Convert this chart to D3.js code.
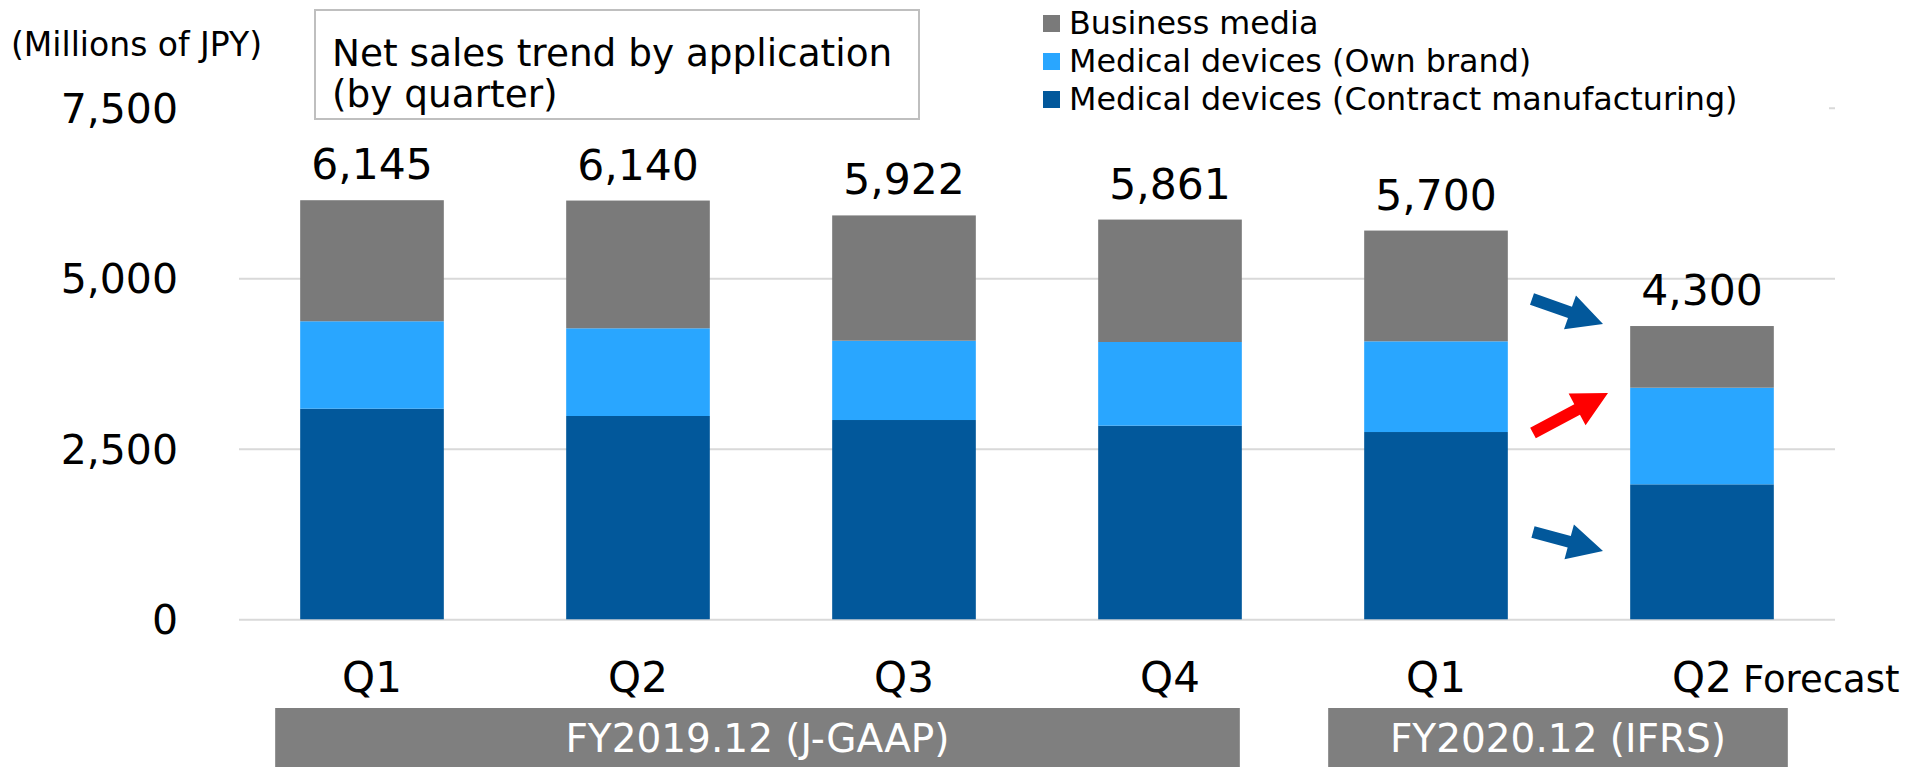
<!DOCTYPE html>
<html>
<head>
<meta charset="utf-8">
<script src="https://cdn.jsdelivr.net/npm/d3@7"></script>
<style>
  body { margin: 0; background: #fff; }
  svg text { font-family: "DejaVu Sans", Verdana, sans-serif; }
</style>
</head>
<body>
<div id="chart"></div>
<script>
// data (millions of JPY)
var quarters = ["Q1", "Q2", "Q3", "Q4", "Q1", "Q2"];
var contract = [3088, 2981, 2922, 2839, 2746, 1979];
var ownBrand = [1282, 1286, 1163, 1227, 1330, 1417];
var business = [1775, 1873, 1837, 1795, 1624, 904];
var totals = [6145, 6140, 5922, 5861, 5700, 4300];
var yTicks = [0, 2500, 5000, 7500];
var seriesNames = ["Business media", "Medical devices (Own brand)", "Medical devices (Contract manufacturing)"];
var seriesColors = ["#7a7a7a", "#29a6ff", "#02589b"];
var periods = [
  { label: "FY2019.12 (J-GAAP)", from: 0, to: 3, padL: 25, padR: -2 },
  { label: "FY2020.12 (IFRS)", from: 4, to: 5, padL: 36, padR: 14 }
];

var width = 1915, height = 767;
var plotLeft = 239, plotRight = 1835;

var svg = d3.select("#chart")
  .append("svg")
  .attr("width", width)
  .attr("height", height);

// rows for stacking
var ids = quarters.map(function (q, i) { return "c" + i; });
var rows = ids.map(function (id, i) {
  return { id: id, contract: contract[i], own: ownBrand[i], biz: business[i] };
});
var keys = ["contract", "own", "biz"];
var keyColor = { contract: seriesColors[2], own: seriesColors[1], biz: seriesColors[0] };

var x = d3.scaleBand()
  .domain(ids)
  .range([plotLeft, plotRight])
  .paddingInner(0.46)
  .paddingOuter(0.23);

var y = d3.scaleLinear()
  .domain([0, 7500])
  .range([619.3, 107.8]);

// gridlines + y labels
var yAxis = svg.append("g")
  .attr("transform", "translate(" + plotLeft + ",0)")
  .call(d3.axisLeft(y)
    .tickValues(yTicks)
    .tickFormat(d3.format(","))
    .tickSizeInner(-(plotRight - plotLeft))
    .tickSizeOuter(0)
    .tickPadding(61));
yAxis.select(".domain").remove();
yAxis.selectAll(".tick line")
  .attr("stroke", "#d9d9d9")
  .attr("stroke-width", 2);
yAxis.selectAll(".tick text")
  .attr("fill", "#000")
  .style("font-size", "41px")
  .attr("dy", "0.35em");

// legend background hides the top gridline
svg.append("rect")
  .attr("x", plotLeft - 5)
  .attr("y", 90)
  .attr("width", 1829 - plotLeft + 5)
  .attr("height", 30)
  .attr("fill", "#fff");

// stacked bars
var stacked = d3.stack().keys(keys)(rows);
svg.append("g")
  .selectAll("g")
  .data(stacked)
  .enter()
  .append("g")
  .attr("fill", function (d) { return keyColor[d.key]; })
  .selectAll("rect")
  .data(function (d) { return d; })
  .enter()
  .append("rect")
  .attr("x", function (d) { return x(d.data.id); })
  .attr("y", function (d) { return y(d[1]); })
  .attr("width", x.bandwidth())
  .attr("height", function (d) { return y(d[0]) - y(d[1]); });

// totals above bars
svg.append("g")
  .selectAll("text")
  .data(totals)
  .enter()
  .append("text")
  .attr("x", function (d, i) { return x(ids[i]) + x.bandwidth() / 2; })
  .attr("y", function (d) { return y(d) - 21; })
  .attr("text-anchor", "middle")
  .style("font-size", "42.5px")
  .text(function (d) { return d3.format(",")(d); });

// quarter labels
svg.append("g")
  .selectAll("text")
  .data(quarters)
  .enter()
  .append("text")
  .attr("x", function (d, i) { return x(ids[i]) + x.bandwidth() / 2; })
  .attr("y", 692)
  .attr("text-anchor", "middle")
  .style("font-size", "42px")
  .text(function (d) { return d; });

svg.append("text")
  .attr("x", x(ids[5]) + x.bandwidth() / 2 + 41)
  .attr("y", 692)
  .style("font-size", "37px")
  .text("Forecast");

// fiscal year bands
var bands = svg.append("g")
  .selectAll("g")
  .data(periods)
  .enter()
  .append("g");
bands.append("rect")
  .attr("x", function (d) { return x(ids[d.from]) - d.padL; })
  .attr("y", 708)
  .attr("width", function (d) { return x(ids[d.to]) + x.bandwidth() + d.padR - (x(ids[d.from]) - d.padL); })
  .attr("height", height - 708)
  .attr("fill", "#7f7f7f");
bands.append("text")
  .attr("x", function (d) { return (x(ids[d.from]) - d.padL + x(ids[d.to]) + x.bandwidth() + d.padR) / 2; })
  .attr("y", 752)
  .attr("text-anchor", "middle")
  .attr("fill", "#fff")
  .style("font-size", "39px")
  .text(function (d) { return d.label; });

// unit label
svg.append("text")
  .attr("x", 11)
  .attr("y", 56)
  .style("font-size", "33px")
  .text("(Millions of JPY)");

// title box
svg.append("rect")
  .attr("x", 315)
  .attr("y", 10)
  .attr("width", 604)
  .attr("height", 109)
  .attr("fill", "#fff")
  .attr("stroke", "#bfbfbf")
  .attr("stroke-width", 2);
svg.append("text")
  .attr("x", 332)
  .attr("y", 66)
  .style("font-size", "37.4px")
  .text("Net sales trend by application");
svg.append("text")
  .attr("x", 332)
  .attr("y", 107)
  .style("font-size", "37.4px")
  .text("(by quarter)");

// legend
var legend = svg.append("g")
  .selectAll("g")
  .data(seriesNames)
  .enter()
  .append("g")
  .attr("transform", function (d, i) { return "translate(1043," + (34 + i * 38) + ")"; });
legend.append("rect")
  .attr("x", 0)
  .attr("y", -19)
  .attr("width", 17)
  .attr("height", 17)
  .attr("fill", function (d, i) { return seriesColors[i]; });
legend.append("text")
  .attr("x", 26)
  .attr("y", 0)
  .style("font-size", "31.8px")
  .text(function (d) { return d; });

// arrows beside the forecast bar
var arrows = [
  { x1: 1532, y1: 299, x2: 1603, y2: 324, color: "#02589b" },
  { x1: 1533, y1: 433, x2: 1608, y2: 393, color: "#ff0000" },
  { x1: 1533, y1: 532, x2: 1603, y2: 551, color: "#02589b" }
];
function arrowPath(a) {
  var dx = a.x2 - a.x1, dy = a.y2 - a.y1;
  var len = Math.sqrt(dx * dx + dy * dy);
  var ux = dx / len, uy = dy / len, nx = -uy, ny = ux;
  var w = 6, h = 18, L = 35;
  var bx = a.x2 - ux * L, by = a.y2 - uy * L;
  var pts = [
    [a.x1 + nx * w, a.y1 + ny * w],
    [bx + nx * w, by + ny * w],
    [bx + nx * h, by + ny * h],
    [a.x2, a.y2],
    [bx - nx * h, by - ny * h],
    [bx - nx * w, by - ny * w],
    [a.x1 - nx * w, a.y1 - ny * w]
  ];
  return "M" + pts.map(function (p) { return p[0] + "," + p[1]; }).join("L") + "Z";
}
svg.append("g")
  .selectAll("path")
  .data(arrows)
  .enter()
  .append("path")
  .attr("d", arrowPath)
  .attr("fill", function (d) { return d.color; });
</script>
</body>
</html>
